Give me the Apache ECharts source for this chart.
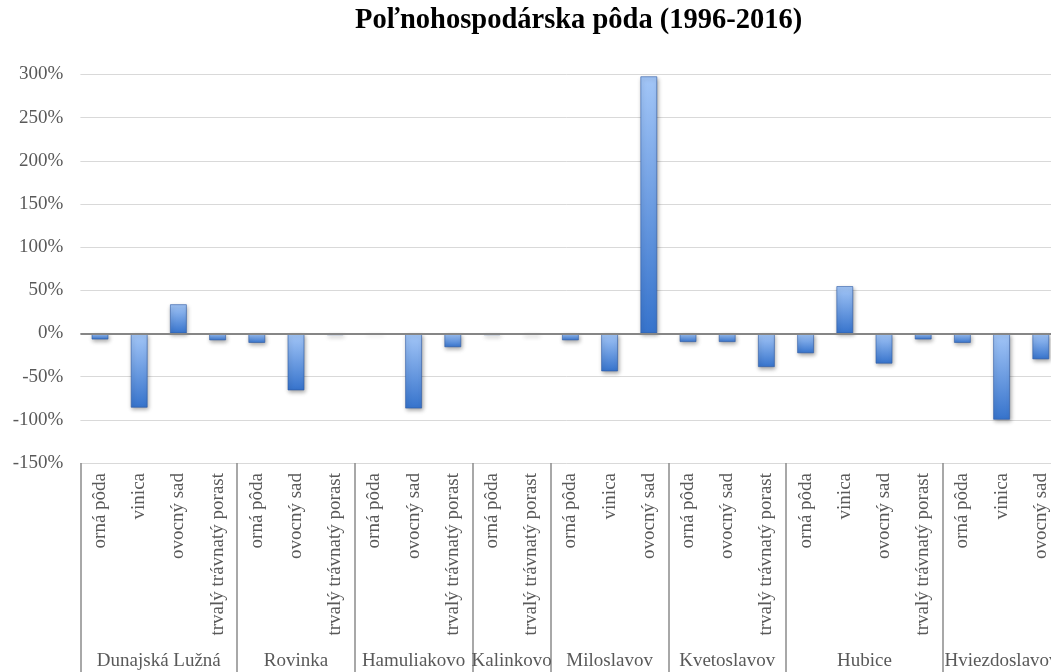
<!DOCTYPE html>
<html>
<head>
<meta charset="utf-8">
<script src="https://cdn.jsdelivr.net/npm/echarts@6/dist/echarts.min.js"></script>
<style>
html,body{margin:0;padding:0;background:#fff;overflow:hidden;}
#chart{width:1051px;height:672px;}
</style>
</head>
<body>
<div id="chart"></div>
<script>
const title = 'Poľnohospodárska pôda (1996-2016)';
const groups = ['Dunajská Lužná', 'Rovinka', 'Hamuliakovo', 'Kalinkovo', 'Miloslavov', 'Kvetoslavov', 'Hubice', 'Hviezdoslavov'];
const groupSizes = [4, 3, 3, 2, 3, 3, 4, 3];
const categories = [
  'orná pôda', 'vinica', 'ovocný sad', 'trvalý trávnatý porast',
  'orná pôda', 'ovocný sad', 'trvalý trávnatý porast',
  'orná pôda', 'ovocný sad', 'trvalý trávnatý porast',
  'orná pôda', 'trvalý trávnatý porast',
  'orná pôda', 'vinica', 'ovocný sad',
  'orná pôda', 'ovocný sad', 'trvalý trávnatý porast',
  'orná pôda', 'vinica', 'ovocný sad', 'trvalý trávnatý porast',
  'orná pôda', 'vinica', 'ovocný sad'
];
const values = [
  -7, -86, 34, -8,
  -11, -66, -2,
  0, -87, -16,
  -2, -1.5,
  -8, -44, 298,
  -10, -10, -39,
  -23, 55, -35, -7,
  -11, -100, -30
];
const yTicks = { min: -150, max: 300, interval: 50 };

// Double-resolution axis (2 slots per category) for the group level
const half = [];
const boundaries = new Set([0]);
let pos = 0;
const total = groupSizes.reduce((a, b) => a + b, 0) * 2;
for (let i = 0; i <= total; i++) half.push('');
groups.forEach((g, i) => {
  const w = groupSizes[i] * 2;
  half[pos + w / 2] = g;
  pos += w;
  boundaries.add(pos);
});

const serif = '"Liberation Serif", "Times New Roman", serif';
const chart = echarts.init(document.getElementById('chart'));
chart.setOption({
  animation: false,
  backgroundColor: '#ffffff',
  title: {
    text: title,
    left: 350,
    top: 1,
    textStyle: { fontFamily: serif, fontWeight: 'bold', fontSize: 28.5, color: '#000000' }
  },
  grid: { left: 80.4, width: 980, top: 74.5, height: 388.5, containLabel: false, outerBoundsMode: 'none' },
  xAxis: [
    {
      type: 'category',
      data: categories,
      position: 'bottom',
      axisLine: { show: false },
      axisTick: { show: false },
      axisLabel: {
        rotate: 90, interval: 0, margin: 10,
        fontFamily: serif, fontSize: 19, color: '#595959'
      }
    },
    {
      type: 'category',
      data: half,
      boundaryGap: false,
      position: 'bottom',
      axisLine: { show: false },
      axisTick: {
        show: true, length: 210,
        interval: function (idx) { return boundaries.has(idx); },
        lineStyle: { color: '#8c8c8c', width: 1.5 }
      },
      axisLabel: {
        interval: 0, margin: 189,
        fontFamily: serif, fontSize: 19, color: '#595959'
      }
    }
  ],
  yAxis: {
    type: 'value',
    min: yTicks.min, max: yTicks.max, interval: yTicks.interval,
    axisLine: { show: false },
    axisTick: { show: false },
    splitLine: { lineStyle: { color: '#d9d9d9', width: 1 } },
    axisLabel: {
      formatter: '{value}%', margin: 17,
      fontFamily: serif, fontSize: 19, color: '#595959'
    }
  },
  series: [{
    type: 'bar',
    xAxisIndex: 0,
    data: values,
    barWidth: 17,
    itemStyle: {
      color: new echarts.graphic.LinearGradient(0, 0, 0, 1, [
        { offset: 0, color: '#a3c6f7' },
        { offset: 1, color: '#3673cc' }
      ]),
      borderColor: 'rgba(45,90,165,0.6)',
      borderWidth: 1,
      shadowColor: 'rgba(0,0,0,0.35)',
      shadowBlur: 4,
      shadowOffsetX: 1,
      shadowOffsetY: 2
    },
    markLine: {
      silent: true,
      symbol: 'none',
      label: { show: false },
      lineStyle: { color: '#868686', width: 2, type: 'solid' },
      data: [{ yAxis: 0 }]
    }
  }]
});
</script>
</body>
</html>
